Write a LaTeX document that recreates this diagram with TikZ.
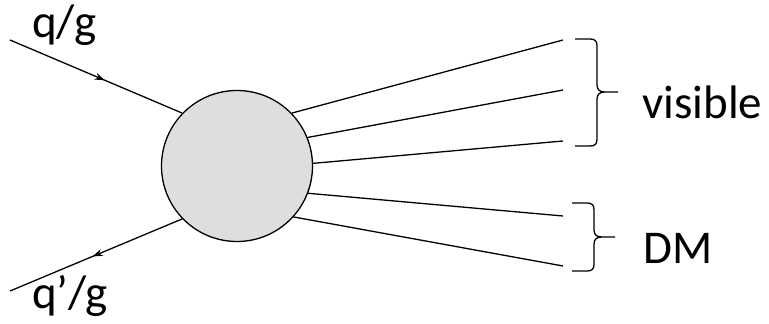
\documentclass[tikz,border=0pt]{standalone}
\usepackage{fontspec}
\setmainfont{Carlito}
\usetikzlibrary{arrows.meta,decorations.markings}
\begin{document}
\begin{tikzpicture}[x=1pt,y=-1pt,
  line/.style={line width=1.3pt},
  lbl/.style={inner sep=0pt,anchor=base west,font=\fontsize{47}{50}\selectfont},
  arrmid/.style={decoration={markings,mark=at position #1 with {\arrow{Stealth[length=10pt,width=7pt]}}},postaction={decorate}},
  bracestyle/.style={line width=1.3pt,line join=round}]
\useasboundingbox (0,0) rectangle (769,324);
\node[circle,draw,line width=1.3pt,fill=black!13,minimum size=151pt,inner sep=0pt] (blob) at (237,166) {};
\coordinate (in) at (10,40);
\coordinate (out) at (10,291);
\coordinate (e1) at (563,40);
\coordinate (e2) at (563,90);
\coordinate (e3) at (563,141);
\coordinate (e4) at (563,216);
\coordinate (e5) at (563,266);
\draw[line,arrmid=0.55] (in) -- (blob.136);
\draw[line,arrmid=0.52] (blob.224) -- (out);
\draw[line] (blob.44) -- (e1);
\draw[line] (blob.22) -- (e2);
\draw[line] (blob.2) -- (e3);
\draw[line] (blob.-21) -- (e4);
\draw[line] (blob.-42) -- (e5);
% visible brace
\draw[bracestyle] (575,39) -- (590,39) .. controls (595,39) and (597,41) .. (597,46)
  -- (597,85) .. controls (597,90) and (600,92) .. (605,92) -- (618,92)
  (605,92) .. controls (600,92) and (597,94) .. (597,99)
  -- (597,139) .. controls (597,144) and (595,146) .. (590,146) -- (575,146);
% DM brace
\draw[bracestyle] (572,203) -- (587,203) .. controls (592,203) and (594,205) .. (594,210)
  -- (594,230) .. controls (594,235) and (597,237) .. (602,237) -- (615,237)
  (602,237) .. controls (597,237) and (594,239) .. (594,244)
  -- (594,264) .. controls (594,269) and (592,271) .. (587,271) -- (572,271);
\node[lbl] (qg) at (32,37) {q/g};
\node[lbl] (qpg) at (32,308) {q’/g};
\node[lbl] (vis) at (642,118) {visible};
\node[lbl] (dm) at (643,263) {DM};
\end{tikzpicture}
\end{document}
